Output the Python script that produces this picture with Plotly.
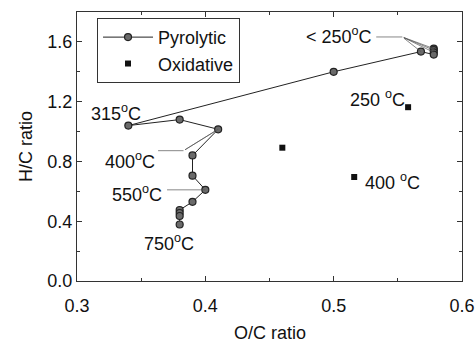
import plotly.graph_objects as go

# Pyrolytic series (O/C, H/C), ordered along the line
pyro_oc = [0.578, 0.578, 0.578, 0.578, 0.568, 0.500, 0.340, 0.380, 0.410, 0.390, 0.390, 0.400, 0.390, 0.380, 0.380, 0.380, 0.380]
pyro_hc = [1.555, 1.545, 1.530, 1.515, 1.535, 1.400, 1.040, 1.080, 1.015, 0.840, 0.705, 0.610, 0.530, 0.475, 0.455, 0.435, 0.378]

# Oxidative series
oxi_oc = [0.460, 0.558, 0.516]
oxi_hc = [0.892, 1.163, 0.696]

x_ticks = [0.3, 0.4, 0.5, 0.6]
y_ticks = [0.0, 0.4, 0.8, 1.2, 1.6]

FONT = "Liberation Sans, Arial, sans-serif"
FS = 18

fig = go.Figure()
fig.add_trace(go.Scatter(
    x=pyro_oc, y=pyro_hc, mode="lines+markers", name="Pyrolytic",
    line=dict(color="#222222", width=1),
    marker=dict(symbol="circle", size=7, color="#6a6a6a", line=dict(color="#222222", width=1.2)),
))
fig.add_trace(go.Scatter(
    x=oxi_oc, y=oxi_hc, mode="markers", name="Oxidative",
    marker=dict(symbol="square", size=6, color="#111111"),
))

ann = []
def label(text, x, y, xanchor="center", yanchor="middle"):
    ann.append(dict(text=text, x=x, y=y, xref="x", yref="y", showarrow=False,
                    xanchor=xanchor, yanchor=yanchor, font=dict(family=FONT, size=FS, color="#111111")))

def leader(tx, ty, hx, hy):
    ann.append(dict(text="", x=hx, y=hy, ax=tx, ay=ty, xref="x", yref="y", axref="x", ayref="y",
                    showarrow=True, arrowhead=0, arrowwidth=0.7, arrowcolor="#555555"))

# < 250 C label and fan of leaders
label("&lt; 250<sup>o</sup>C", 0.5315, 1.645, xanchor="right")
leader(0.532, 1.633, 0.5535, 1.633)
for i in [0, 1, 2, 4]:
    leader(0.5535, 1.633, pyro_oc[i], pyro_hc[i])

# 315 C
label("315<sup>o</sup>C", 0.309, 1.13, xanchor="left")

# 400 C
label("400<sup>o</sup>C", 0.362, 0.805, xanchor="right")
leader(0.362, 0.872, 0.383, 0.872)
leader(0.383, 0.872, pyro_oc[8], pyro_hc[8])
leader(0.383, 0.872, pyro_oc[8] - 0.002, pyro_hc[8] - 0.01)

# 550 C
label("550<sup>o</sup>C", 0.368, 0.585, xanchor="right")
leader(0.369, 0.61, pyro_oc[11], pyro_hc[11])

# 750 C
label("750<sup>o</sup>C", 0.351, 0.26, xanchor="left")

# Oxidative labels
label("250 <sup>o</sup>C", 0.5575, 1.22, xanchor="right")
label("400 <sup>o</sup>C", 0.523, 0.668, xanchor="left")

# X axis title (placed as paper annotation to sit lower than the margin allows)
ann.append(dict(text="O/C ratio", x=0.5, y=-0.193, xref="paper", yref="paper", showarrow=False,
                xanchor="center", yanchor="middle", font=dict(family=FONT, size=FS, color="#111111")))

axis_common = dict(
    showline=True, linecolor="#333333", linewidth=1, mirror="ticks",
    ticks="inside", ticklen=5, tickcolor="#333333", showgrid=False, zeroline=False,
    tickfont=dict(family=FONT, size=FS, color="#111111"), automargin=False,
)

fig.update_layout(
    width=475, height=342,
    margin=dict(l=77, r=13, t=12, b=61),
    paper_bgcolor="white", plot_bgcolor="white",
    font=dict(family=FONT, size=FS, color="#111111"),
    xaxis=dict(range=[0.3, 0.6], tickvals=x_ticks, ticktext=[f"{v:.1f}" for v in x_ticks],
               ticklabelstandoff=8,
               minor=dict(dtick=0.05, ticks="inside", ticklen=3, tickcolor="#333333", showgrid=False),
               **axis_common),
    yaxis=dict(range=[0, 1.8], tickvals=y_ticks, ticktext=[f"{v:.1f}" for v in y_ticks],
               title=dict(text="H/C ratio", font=dict(family=FONT, size=FS), standoff=10),
               minor=dict(dtick=0.2, ticks="inside", ticklen=3, tickcolor="#333333", showgrid=False),
               **axis_common),
    legend=dict(x=0.052, y=0.978, xanchor="left", yanchor="top", itemwidth=50,
                bordercolor="#333333", borderwidth=1, bgcolor="white",
                font=dict(family=FONT, size=FS, color="#111111")),
    annotations=ann,
)

fig.write_html("out.html")
